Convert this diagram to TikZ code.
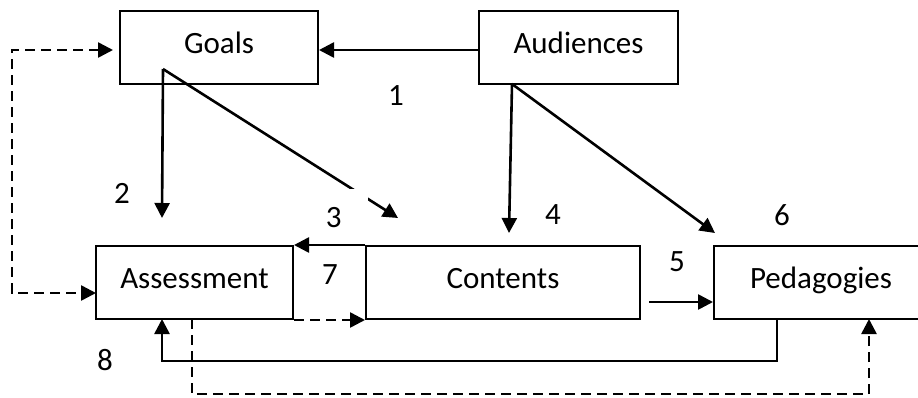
\documentclass[tikz,border=0pt]{standalone}
\usepackage{fontspec}
\setmainfont{Carlito}
\usetikzlibrary{arrows.meta}
\begin{document}
\begin{tikzpicture}[x=1pt,y=-1pt,
  box/.style={draw, line width=2pt, inner sep=0pt, minimum height=73pt,
    text height=20pt, text depth=9pt, font=\fontsize{31}{36}\selectfont},
  num/.style={inner sep=0pt, font=\fontsize{31}{36}\selectfont},
  tip/.style={-{Triangle[length=15pt,width=15pt]}},
  link/.style={line width=2.6pt, tip},
  dlink/.style={link, dash pattern=on 10pt off 6pt}]
\useasboundingbox (0,0) rectangle (918,397);

% boxes
\node[box, minimum width=198pt] (goals) at (219,47.5) {Goals};
\node[box, minimum width=199pt] (aud) at (578.5,47.5) {Audiences};
\node[box, minimum width=197pt] (ass) at (194.5,282.5) {Assessment};
\node[box, minimum width=274pt] (con) at (503,282.5) {Contents};
\node[box, minimum width=214pt] (ped) at (821,282.5) {Pedagogies};

% connector ends
\coordinate (y1) at (0,50);
\coordinate (gA) at (163,69);
\coordinate (t2) at (162,218);
\coordinate (t3) at (398,218);
\coordinate (aA) at (512,84);
\coordinate (t4) at (509,233);
\coordinate (t6) at (715,233);
\coordinate (s5) at (649,302);
\coordinate (s8) at (777,319);
\coordinate (t8) at (162,319);
\coordinate (s9) at (192,319);
\coordinate (t9) at (869,319);
\coordinate (tg) at (113,50);
\coordinate (lc) at (12,50);
\coordinate (tas) at (96,293);

% connectors
\draw[link] (aud.west |- y1) -- (goals.east |- y1);
\draw[link] (gA) -- (t2);
\draw[link] (gA) -- (t3);
\draw[link] (aA) -- (t4);
\draw[link] (aA) -- (t6);
\draw[link] (con.north west) -- (ass.north east);
\draw[dlink] (ass.south east) -- (con.south west);
\draw[link] (s5) -- (ped.west |- s5);
\draw[link] (s8) -- ++(0,42) -| (t8);
\draw[dlink] (s9) -- ++(0,75) -| (t9);
\draw[dlink, {Triangle[length=15pt,width=15pt]}-{Triangle[length=15pt,width=15pt]}]
  (tg) -- (lc) |- (tas);

% step numbers
\node[num] (n1) at (396,96) {1};
\node[num] (n2) at (122,193) {2};
\node[num, fill=white, anchor=north east, inner sep=4pt, text width=38pt,
  text height=34pt, text depth=0pt, align=left] (n3) at (368,189) {3};
\node[num] (n4) at (553,215) {4};
\node[num] (n5) at (677,262) {5};
\node[num] (n6) at (782,215) {6};
\node[num] (n7) at (330,275) {7};
\node[num] (n8) at (105,360) {8};
\end{tikzpicture}
\end{document}
